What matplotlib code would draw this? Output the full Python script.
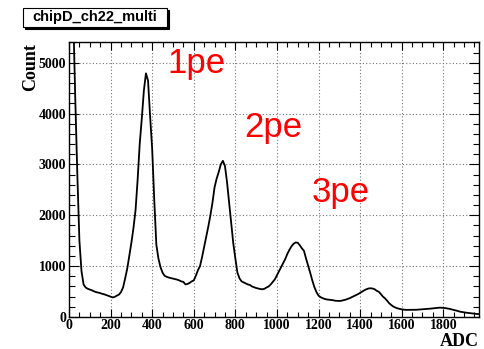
import matplotlib
matplotlib.use("Agg")
import matplotlib.pyplot as plt
from matplotlib.patches import Rectangle
from matplotlib.ticker import MultipleLocator

# ADC bin centres (10 ADC steps) and counts
adc = list(range(0, 1980, 10))
counts = [
    9000, 8000, 6000, 4300, 2800, 1500, 900, 640, 580, 555,
    540, 525, 505, 490, 480, 470, 455, 445, 430, 415,
    400, 385, 395, 420, 440, 490, 580, 760, 950, 1200,
    1460, 1750, 2100, 2700, 3400, 3900, 4450, 4790, 4650, 3950,
    3300, 2300, 1420, 1150, 980, 870, 810, 790, 775, 765,
    755, 745, 735, 720, 700, 690, 640, 650, 670, 700,
    720, 810, 920, 1000, 1180, 1380, 1580, 1780, 2000, 2250,
    2550, 2720, 2850, 3000, 3070, 2970, 2650, 2250, 1830, 1450,
    1150, 870, 760, 700, 680, 660, 640, 630, 600, 585,
    570, 560, 550, 545, 555, 580, 600, 640, 690, 740,
    820, 900, 980, 1060, 1140, 1240, 1320, 1390, 1440, 1465,
    1460, 1410, 1350, 1300, 1150, 1010, 870, 720, 590, 490,
    420, 390, 370, 355, 345, 340, 335, 330, 320, 318,
    315, 320, 330, 340, 355, 370, 390, 410, 430, 450,
    475, 500, 525, 545, 560, 565, 560, 545, 515, 495,
    450, 400, 365, 320, 270, 235, 205, 185, 170, 160,
    150, 145, 140, 140, 138, 138, 140, 142, 145, 148,
    150, 152, 155, 160, 165, 170, 175, 180, 183, 183,
    180, 175, 168, 160, 150, 140, 128, 118, 105, 98,
    90, 85, 80, 75, 70, 65, 60, 58,
]

peak_labels = ["1pe", "2pe", "3pe"]
label_x = [472, 842, 1169]
label_y = [4794, 3536, 2259]

xticks = list(range(0, 1801, 200))
yticks = list(range(0, 5001, 1000))

fig = plt.figure(figsize=(4.85, 3.49), dpi=100)
ax = fig.add_axes([0.1423, 0.0917, 0.8454, 0.787])

ax.plot(adc, counts, color="black", lw=1.3)
ax.set_xlim(0, 1972)
ax.set_ylim(0, 5400)

ax.set_xticks(xticks)
ax.set_yticks(yticks)
ax.xaxis.set_minor_locator(MultipleLocator(50))
ax.yaxis.set_minor_locator(MultipleLocator(200))
ax.tick_params(which="both", direction="in", top=True, right=True, width=0.8)
ax.tick_params(axis="x", which="major", length=6)
ax.tick_params(axis="x", which="minor", length=3.5)
ax.tick_params(axis="y", which="major", length=7)
ax.tick_params(axis="y", which="minor", length=4.5)
for lab in ax.get_xticklabels() + ax.get_yticklabels():
    lab.set_family("Liberation Serif")
    lab.set_fontweight("bold")
    lab.set_fontsize(10)
ax.tick_params(axis="x", pad=1.5)
ax.tick_params(axis="y", pad=2)

ax.grid(True, which="major", color="0.45", linestyle=(0, (1, 2)), lw=0.8)
for s in ax.spines.values():
    s.set_linewidth(1.0)

for txt, x, y in zip(peak_labels, label_x, label_y):
    ax.text(x, y, txt, color="red", fontsize=25, family="Liberation Sans",
            ha="left", va="baseline")

fig.text(0.064, 1 - 43 / 349, "Count", rotation=90, ha="center", va="top",
         family="Liberation Serif", fontweight="bold", fontsize=13)
fig.text(479 / 485, 1 - 346.5 / 349, "ADC", ha="right", va="baseline",
         family="Liberation Serif", fontweight="bold", fontsize=13)

# ROOT style title box with shadow
bx, by, bw, bh = 23 / 485, 1 - 27 / 349, 144 / 485, 19 / 349
fig.patches.append(Rectangle((bx + 2 / 485, by - 2 / 349), bw, bh,
                             transform=fig.transFigure, facecolor="black",
                             edgecolor="black", lw=0.8))
fig.patches.append(Rectangle((bx, by), bw, bh, transform=fig.transFigure,
                             facecolor="white", edgecolor="black", lw=0.8))
fig.text(bx + bw / 2, by + bh / 2, "chipD_ch22_multi", ha="center", va="center",
         family="Liberation Sans", fontweight="bold", fontsize=10.5)

fig.savefig("out.png", dpi=100)
